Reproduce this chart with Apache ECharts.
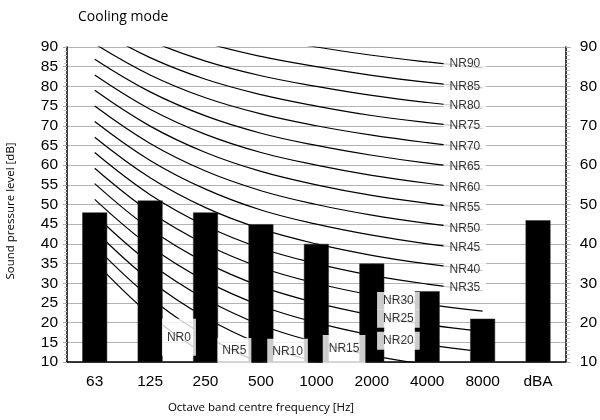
<!DOCTYPE html>
<html>
<head>
<meta charset="utf-8">
<script src="https://cdn.jsdelivr.net/npm/echarts@6/dist/echarts.min.js"></script>
<style>html,body{margin:0;padding:0;background:#fff;}#c{width:600px;height:420px;}</style>
</head>
<body>
<div id="c"></div>
<script>
// ---- data ----
const categories = ['63', '125', '250', '500', '1000', '2000', '4000', '8000', 'dBA'];
const levels = [48, 51, 48, 45, 40, 35, 28, 21, 46];
const leftTicks = [10, 90, 5];
const rightTicks = [10, 90, 10];
const nrNames = ['NR0','NR5','NR10','NR15','NR20','NR25','NR30','NR35','NR40','NR45','NR50','NR55','NR60','NR65','NR70','NR75','NR80','NR85','NR90'];
// NR curve levels at 63..8000 Hz
const NR0  = [35.5, 22.0, 12.0, 4.8, 0, -3.5, -6.1, -8.0];
const NR5  = [39.5, 26.4, 16.7, 9.7, 5, 1.6, -1.0, -2.9];
const NR10 = [43.4, 30.7, 21.3, 14.5, 10, 6.7, 4.2, 2.3];
const NR15 = [47.4, 35.1, 26.0, 19.4, 15, 11.7, 9.3, 7.5];
const NR20 = [51.3, 39.4, 30.6, 24.3, 20, 16.8, 14.4, 12.6];
const NR25 = [55.3, 43.8, 35.3, 29.2, 25, 21.9, 19.5, 17.8];
const NR30 = [59.2, 48.1, 39.9, 34.0, 30, 27.0, 24.7, 22.9];
const NR35 = [63.2, 52.5, 44.6, 38.9, 35, 32.0, 29.8, 28.1];
const NR40 = [67.1, 56.8, 49.2, 43.8, 40, 37.1, 34.9, 33.2];
const NR45 = [71.1, 61.2, 53.9, 48.6, 45, 42.2, 40.0, 38.4];
const NR50 = [75.0, 65.5, 58.5, 53.5, 50, 47.3, 45.2, 43.5];
const NR55 = [79.0, 69.9, 63.2, 58.4, 55, 52.3, 50.3, 48.7];
const NR60 = [82.9, 74.2, 67.8, 63.2, 60, 57.4, 55.4, 53.8];
const NR65 = [86.9, 78.6, 72.5, 68.1, 65, 62.5, 60.5, 59.0];
const NR70 = [90.8, 82.9, 77.1, 73.0, 70, 67.6, 65.7, 64.1];
const NR75 = [94.8, 87.3, 81.8, 77.9, 75, 72.6, 70.8, 69.3];
const NR80 = [98.7, 91.6, 86.4, 82.7, 80, 77.7, 75.9, 74.4];
const NR85 = [102.7, 96.0, 91.1, 87.6, 85, 82.8, 81.0, 79.6];
const NR90 = [106.6, 100.3, 95.7, 92.5, 90, 87.9, 86.2, 84.7];
const nrCurves = [NR0,NR5,NR10,NR15,NR20,NR25,NR30,NR35,NR40,NR45,NR50,NR55,NR60,NR65,NR70,NR75,NR80,NR85,NR90];

// ---- layout (label anchors in band units / dB) ----
const labelAnchors = [
  [1.52, 16.3], [2.52, 12.8], [3.48, 12.7], [4.5, 13.3],
  [5.48, 15.4], [5.48, 21.0], [5.48, 25.5],
  [6.68, 28.8], [6.68, 33.4], [6.68, 39.0], [6.68, 43.8], [6.68, 49.1],
  [6.68, 54.2], [6.68, 59.5], [6.68, 64.6], [6.68, 70.0], [6.68, 75.0],
  [6.68, 79.9], [6.68, 85.8]
];
const labelPadding = [
  [8, 5, 17, 5], [5, 5, 9, 5], [4, 5, 9, 5], [6, 6, 10, 6],
  [3, 6, 3, 6], [3, 6, 3, 6], [3, 6, 3, 6]
];

const FONT = '"Liberation Sans", Arial, sans-serif';
const chart = echarts.init(document.getElementById('c'), null, {renderer: 'canvas'});

const lineSeries = nrCurves.map((d, i) => ({
  type: 'line', name: nrNames[i], data: d, xAxisIndex: 0, yAxisIndex: 0,
  symbol: 'none', smooth: 0.4, clip: true, silent: true, z: 2,
  lineStyle: {color: '#000', width: 1.2}
}));

const labelData = nrNames.map((n, i) => {
  const item = {value: labelAnchors[i], name: n};
  if (i < labelPadding.length) item.label = {padding: labelPadding[i]};
  return item;
});

const option = {
  animation: false,
  backgroundColor: '#fff',
  grid: {left: 67, right: 33, top: 47, bottom: 58},
  title: [{
    text: 'Cooling mode', left: 73, top: 5,
    textStyle: {fontFamily: '"Open Sans", sans-serif', fontSize: 14, fontWeight: 'normal', color: '#000'}
  }],
  graphic: [
    {type: 'text', x: 261, y: 408, silent: true,
     style: {text: 'Octave band centre frequency [Hz]', fill: '#000', font: '11.5px "Open Sans", sans-serif', textAlign: 'center', textVerticalAlign: 'middle'}},
    {type: 'text', x: 11, y: 211, rotation: Math.PI / 2, silent: true,
     style: {text: 'Sound pressure level [dB]', fill: '#000', font: '11.5px "Open Sans", sans-serif', textAlign: 'center', textVerticalAlign: 'middle'}}
  ],
  xAxis: [{
    type: 'category', data: categories, boundaryGap: true,
    axisLine: {onZero: false, lineStyle: {color: '#000', width: 1.5}},
    axisTick: {show: false},
    axisLabel: {color: '#000', fontFamily: FONT, fontSize: 15.5, margin: 12},
    splitLine: {show: false}
  }, {
    type: 'value', min: -0.5, max: 8.5, show: false
  }],
  yAxis: [{
    type: 'value', min: leftTicks[0], max: leftTicks[1], interval: leftTicks[2], position: 'left',
    axisLine: {show: true, onZero: false, lineStyle: {color: '#000', width: 1.5}},
    axisTick: {show: true, length: 4, lineStyle: {color: '#aaa'}},
    minorTick: {show: true, splitNumber: 5, length: 3, lineStyle: {color: '#c4c4c4'}},
    axisLabel: {color: '#000', fontFamily: FONT, fontSize: 15.5, margin: 9},
    splitLine: {show: true, lineStyle: {color: '#b3b3b3', width: 1}}
  }, {
    type: 'value', min: rightTicks[0], max: rightTicks[1], interval: rightTicks[2], position: 'right',
    axisLine: {show: true, onZero: false, lineStyle: {color: '#000', width: 1.5}},
    axisTick: {show: true, length: 5, lineStyle: {color: '#aaa'}},
    minorTick: {show: true, splitNumber: 10, length: 4, lineStyle: {color: '#c4c4c4'}},
    axisLabel: {color: '#000', fontFamily: FONT, fontSize: 15.5, margin: 14},
    splitLine: {show: false}
  }],
  series: [
    ...lineSeries,
    {
      type: 'bar', data: levels, xAxisIndex: 0, yAxisIndex: 0, barWidth: '45%', z: 4,
      itemStyle: {color: '#000', borderColor: '#333', borderWidth: 0.5}, silent: true
    },
    {
      type: 'scatter', data: labelData, xAxisIndex: 1, yAxisIndex: 0, symbolSize: 0, z: 5, silent: true,
      label: {
        show: true, position: 'inside', formatter: p => p.name,
        color: '#000', fontFamily: FONT, fontSize: 12,
        backgroundColor: '#fff', padding: [2, 6]
      }
    }
  ]
};
chart.setOption(option);
</script>
</body>
</html>
